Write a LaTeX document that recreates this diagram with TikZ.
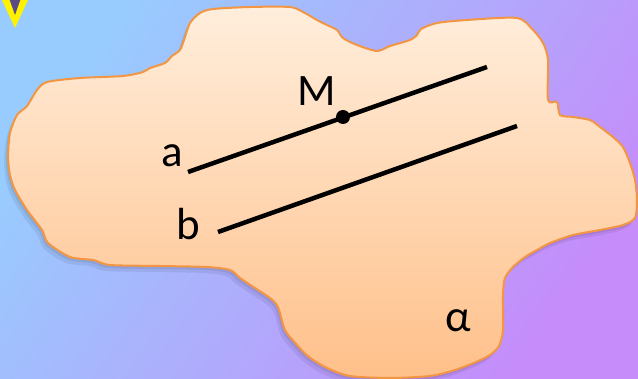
\documentclass[tikz,border=0pt]{standalone}
\usepackage{fontspec}
\setmainfont{Carlito}
\begin{document}
\begin{tikzpicture}[x=1pt,y=-1pt,
  lbl/.style={inner sep=0pt, anchor=base west, font=\fontsize{45}{45}\selectfont},
  segline/.style={line width=4.5pt, black},
  blobedge/.style={draw=blobline, line width=2pt}]
\definecolor{bgblue}{HTML}{98CCFE}
\definecolor{bgpurple}{HTML}{C58CFA}
\definecolor{blobtop}{HTML}{FFEEDC}
\definecolor{blobbot}{HTML}{FFC08A}
\definecolor{blobline}{HTML}{F29644}
\definecolor{vpurple}{HTML}{5C4A86}
\useasboundingbox (0,0) rectangle (638,379);
\clip (0,0) rectangle (638,379);
% background
\shade[top color=bgblue, bottom color=bgpurple, shading angle=55] (0,0) rectangle (638,379);
% corner mark
\fill[yellow] (1,-2) -- (29,-2) -- (15,28) -- cycle;
\fill[vpurple] (9,-2) -- (21,-2) -- (15,15) -- cycle;
% blob outline
\def\blobpath{plot[smooth cycle, tension=0.45] coordinates {
 (150,68) (165,63) (172,56) (180,50) (184,40) (190,23) (200,13) (213,9)
 (250,7) (290,7) (303,12) (317,20) (327,25) (337,30) (343,38) (357,45)
 (377,51) (390,46) (410,40) (417,35) (421,29) (437,23) (467,20) (517,18)
 (533,30) (543,43) (548,60) (548,100) (557,102) (560,115) (573,117)
 (590,120) (600,127) (613,137) (623,147) (630,163) (635,180) (637,200)
 (635,218) (623,225) (600,230) (573,235) (550,243) (537,250) (525,257)
 (513,267) (505,278) (503,295) (503,330) (499,346) (490,355) (476,362)
 (455,370) (430,376) (390,378) (350,376) (327,368) (309,357) (297,345)
 (285,330) (278,307) (270,298) (255,288) (240,278) (230,270) (207,267)
 (160,266) (110,265) (93,260) (70,257) (48,243) (42,230) (27,210)
 (15,190) (10,175) (8,157) (10,133) (17,115) (27,106) (37,90) (47,82)
 (80,78) (123,76) (143,72)}}
% shadow
\fill[black, opacity=0.07, xshift=-4pt, yshift=-6pt] \blobpath;
\fill[black, opacity=0.07, xshift=-2pt, yshift=-3pt] \blobpath;
% blob
\shade[top color=blobtop, bottom color=blobbot, blobedge] \blobpath;
% lines
\coordinate (a1) at (188,172);
\coordinate (a2) at (487,67);
\coordinate (b1) at (218,232);
\coordinate (b2) at (517,126);
\draw[segline] (a1) -- (a2);
\draw[segline] (b1) -- (b2);
\coordinate (M) at (343,117);
\fill[black] (M) circle[radius=7pt];
% labels
\node[lbl] (lM) at (297,106) {M};
\node[lbl] (la) at (161,167) {a};
\node[lbl] (lb) at (176,240) {b};
\node[lbl] (lalpha) at (445,332) {α};
\end{tikzpicture}
\end{document}
